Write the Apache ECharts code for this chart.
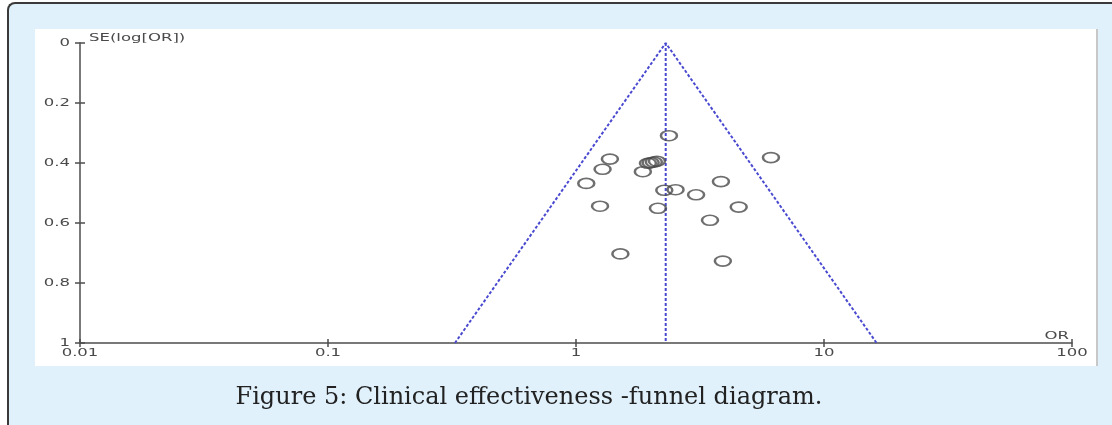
<!DOCTYPE html>
<html>
<head>
<meta charset="utf-8">
<script src="https://cdn.jsdelivr.net/npm/echarts@6/dist/echarts.min.js"></script>
<style>
  html, body { margin: 0; padding: 0; width: 1112px; height: 425px; background: #fff; overflow: hidden; position: relative; }
  .frame {
    position: absolute; left: 7px; top: 2px; width: 1200px; height: 500px;
    border-left: 2px solid #3a3a3a; border-top: 2px solid #3a3a3a;
    border-top-left-radius: 8px; background: #e0f1fb;
  }
  .panel {
    position: absolute; left: 35px; top: 29px; width: 1061px; height: 337px;
    background: #fff; border-right: 2px solid #c8c8c8;
  }
  #chart { position: absolute; left: 0; top: 0; width: 1112px; height: 425px; }
</style>
</head>
<body>
<div class="frame"></div>
<div class="panel"></div>
<div id="chart"></div>
<script>
// study estimates (odds ratio, standard error of log OR)
const studyOr = [2.37, 1.37, 6.11, 1.95, 2.00, 2.06, 2.12, 1.28, 1.86, 1.10, 3.84,
  2.27, 2.52, 3.05, 1.25, 2.14, 4.53, 3.47, 1.51, 3.91]
const studySe = [0.309, 0.387, 0.382, 0.401, 0.399, 0.397, 0.394, 0.421, 0.429, 0.468, 0.462,
  0.491, 0.489, 0.506, 0.544, 0.551, 0.547, 0.591, 0.703, 0.727]

// funnel outline (pseudo 95% limits) and pooled estimate
const funnelOr = [0.325, 2.3, 16.3]
const funnelSe = [1, 0, 1]
const pooledOr = [2.3, 2.3]
const pooledSe = [0, 1]

const xTicks = ['0.01', '0.1', '1', '10', '100']
const yTicks = ['0', '0.2', '0.4', '0.6', '0.8', '1']

const zip = (a, b) => a.map((v, i) => [v, b[i]])

const axisColor = '#4d4d4d'
const funnelColor = '#4a4ad0'
const labelFont = '11px "DejaVu Sans"'
const labelFill = '#4a4a4a'
const stretch = 1.5 // the original labels are drawn wide

const chart = echarts.init(document.getElementById('chart'))
chart.setOption({
  animation: false,
  backgroundColor: 'transparent',
  title: {
    text: 'Figure 5: Clinical effectiveness -funnel diagram.',
    left: 524, top: 381, textAlign: 'center',
    textStyle: { fontFamily: 'DejaVu Serif', fontSize: 24, fontWeight: 'normal', color: '#222' }
  },
  grid: { left: 80, right: 40, top: 43, bottom: 82 },
  xAxis: [{
    type: 'log', logBase: 10, min: 0.01, max: 100,
    axisLine: { onZero: false, lineStyle: { color: axisColor, width: 1.5 } },
    axisTick: { length: 4, lineStyle: { color: axisColor, width: 1.5 } },
    axisLabel: { show: false },
    splitLine: { show: false }
  }, {
    type: 'log', logBase: 10, min: 0.01, max: 100, position: 'bottom',
    axisLine: { show: false, onZero: false },
    axisTick: { inside: true, length: 4, lineStyle: { color: axisColor, width: 1.5 } },
    axisLabel: { show: false }, splitLine: { show: false }
  }],
  yAxis: [{
    type: 'value', inverse: true, min: 0, max: 1, interval: 0.2,
    axisLine: { show: true, onZero: false, lineStyle: { color: axisColor, width: 1.5 } },
    axisTick: { show: true, length: 5, lineStyle: { color: axisColor, width: 1.5 } },
    axisLabel: { show: false },
    splitLine: { show: false }
  }, {
    type: 'value', inverse: true, min: 0, max: 1, interval: 0.2, position: 'left',
    axisLine: { show: false, onZero: false },
    axisTick: { show: true, inside: true, length: 5, lineStyle: { color: axisColor, width: 1.5 } },
    axisLabel: { show: false }, splitLine: { show: false }
  }],
  series: [{
    type: 'line', data: zip(funnelOr, funnelSe), symbol: 'none', z: 2,
    lineStyle: { color: funnelColor, width: 2, type: [3, 2] }
  }, {
    type: 'line', data: zip(pooledOr, pooledSe), symbol: 'none', z: 2,
    lineStyle: { color: funnelColor, width: 2, type: [3, 2] }
  }, {
    type: 'scatter', data: zip(studyOr, studySe), z: 3,
    symbol: 'circle', symbolSize: [16, 10],
    itemStyle: { color: 'transparent', borderColor: '#4a4a4a', borderWidth: 2 }
  }]
})

// tick labels and axis names, placed through the axes' own scales and drawn stretched
const toPx = p => chart.convertToPixel({ xAxisIndex: 0, yAxisIndex: 0 }, p)
const wideText = (pos, text, align, vAlign) => ({
  type: 'text', x: pos[0], y: pos[1], scaleX: stretch,
  style: { text, font: labelFont, fill: labelFill, align, verticalAlign: vAlign }
})
const labels = []
yTicks.forEach(t => {
  const p = toPx([+xTicks[0], +t])
  labels.push(wideText([p[0] - 10, p[1]], t, 'right', 'middle'))
})
xTicks.forEach(t => {
  const p = toPx([+t, 1])
  labels.push(wideText([p[0], p[1] + 5], t, 'center', 'top'))
})
const origin = toPx([+xTicks[0], 0])
labels.push(wideText([origin[0] + 9, origin[1] + 1], 'SE(log[OR])', 'left', 'bottom'))
const end = toPx([+xTicks[xTicks.length - 1], 1])
labels.push(wideText([end[0] - 3, end[1] - 1], 'OR', 'right', 'bottom'))
chart.setOption({ graphic: labels })
</script>
</body>
</html>
